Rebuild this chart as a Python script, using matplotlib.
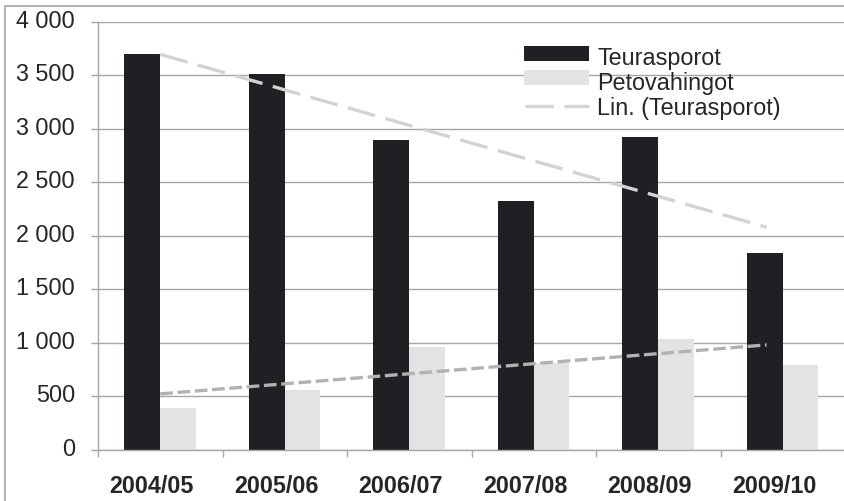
import matplotlib
matplotlib.use('Agg')
import matplotlib.pyplot as plt
import numpy as np
from matplotlib.patches import Rectangle
from matplotlib.transforms import ScaledTranslation

categories = ['2004/05', '2005/06', '2006/07', '2007/08', '2008/09', '2009/10']
teurasporot = [3700, 3513, 2896, 2325, 2927, 1841]
petovahingot = [388, 557, 959, 806, 1034, 791]
yticks = [0, 500, 1000, 1500, 2000, 2500, 3000, 3500, 4000]
ytick_labels = ['0', '500', '1 000', '1 500', '2 000', '2 500', '3 000', '3 500', '4 000']
legend_labels = ['Teurasporot', 'Petovahingot', 'Lin. (Teurasporot)']

BLACK = '#1f2023'
LIGHT = '#e3e3e3'
TREND1 = '#d3d3d3'
TREND2 = '#b2b2b2'
TXT = '#262626'
GRID = '#a6a6a6'

W, H = 844, 501
plt.rcParams['font.family'] = ['Liberation Sans', 'DejaVu Sans']
fig = plt.figure(figsize=(W / 100, H / 100), dpi=100)
fig.patch.set_facecolor('white')

# outer chart border (light gray), partially cut off on right/bottom
fig.add_artist(Rectangle((5 / W, -0.1), 1.1, 1 - 6 / H + 0.1, transform=fig.transFigure,
                         fill=False, edgecolor='#b4b4b4', lw=1.5))

ax = fig.add_axes([98 / W, (H - 449.5) / H, (845 - 98) / W, (449.5 - 22) / H])
x = np.arange(len(categories))
ax.bar(x - 0.29, teurasporot, width=0.29, align='edge', color=BLACK, zorder=2)
ax.bar(x, petovahingot, width=0.285, align='edge', color=LIGHT, zorder=2)

xt = np.array([0.0, 4.87])
p1 = np.polyfit(x, teurasporot, 1)
p2 = np.polyfit(x, petovahingot, 1)
ax.plot(xt, np.polyval(p1, xt), color=TREND1, lw=2.4, dashes=(8.5, 3.2), zorder=3,
        dash_capstyle='butt')
ax.plot(xt, np.polyval(p2, xt), color=TREND2, lw=2.4, dashes=(3.8, 1.4), zorder=3,
        dash_capstyle='butt')

ax.set_xlim(-0.5, 5.5)
ax.set_ylim(0, 4000)
ax.set_yticks(yticks)
ax.set_yticklabels(ytick_labels)
ax.set_xticks(x)
ax.set_xticklabels(categories, fontweight='bold')
ax.set_xticks(np.arange(-0.5, 6.0, 1.0), minor=True)
ax.tick_params(axis='x', which='major', length=0, pad=18.5, labelsize=16.8, labelcolor=TXT)
ax.tick_params(axis='x', which='minor', length=5, width=1, color=GRID, direction='out')
ax.tick_params(axis='y', length=5, width=1, color=GRID, pad=11.5, labelsize=16.8,
               labelcolor=TXT)
for lab in ax.get_xticklabels():
    lab.set_transform(lab.get_transform() + ScaledTranslation(-8.5 / 100, 0, fig.dpi_scale_trans))
for lab in ax.get_yticklabels():
    lab.set_transform(lab.get_transform() + ScaledTranslation(0, 3 / 100, fig.dpi_scale_trans))

ax.grid(axis='y', color=GRID, lw=1.0, zorder=0)
ax.set_axisbelow(True)
for s in ['top', 'right']:
    ax.spines[s].set_visible(False)
for s in ['left', 'bottom']:
    ax.spines[s].set_color(GRID)
    ax.spines[s].set_linewidth(1.0)

# legend, drawn in figure pixel coordinates
def fx(px):
    return px / W

def fy(py):
    return 1 - py / H

fig.add_artist(Rectangle((fx(524), fy(61)), fx(589) - fx(524), fy(46) - fy(61),
                         transform=fig.transFigure, facecolor=BLACK, edgecolor='none'))
fig.add_artist(Rectangle((fx(524), fy(85)), fx(589) - fx(524), fy(70) - fy(85),
                         transform=fig.transFigure, facecolor=LIGHT, edgecolor='none'))
fig.add_artist(plt.Line2D([fx(525), fx(589)], [fy(106), fy(106)], transform=fig.transFigure,
                          color=TREND1, lw=2.4, dashes=(8.5, 3.2), dash_capstyle='butt'))
for lbl, base in zip(legend_labels, [65, 90, 115.3]):
    fig.text(fx(597), fy(base), lbl, fontsize=16.8, color=TXT, ha='left', va='baseline')

fig.savefig('out.png', dpi=100)
